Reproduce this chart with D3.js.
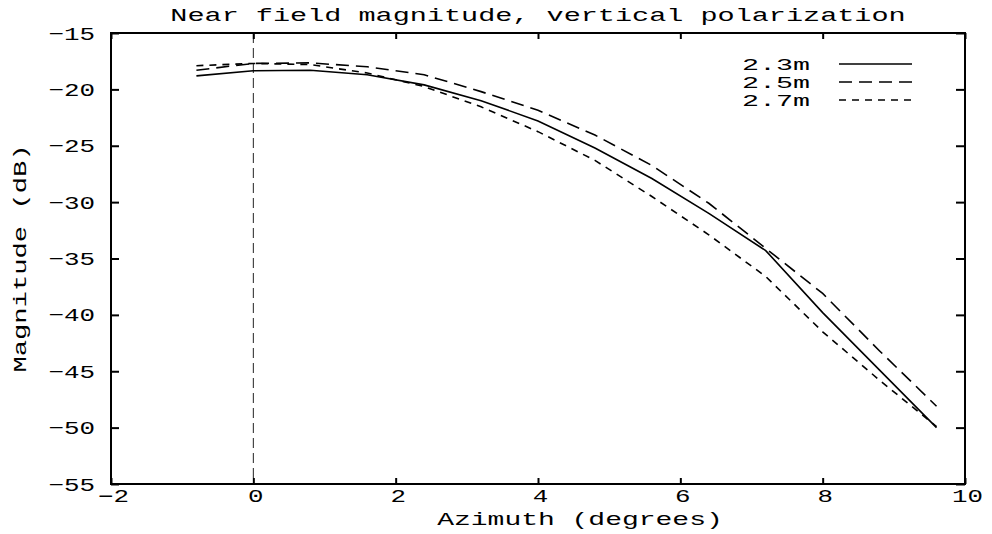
<!DOCTYPE html>
<html>
<head>
<meta charset="utf-8">
<script src="https://cdn.jsdelivr.net/npm/d3@7"></script>
<style>
  html, body { margin: 0; padding: 0; background: #fff; }
  svg { display: block; }
  text { font-family: "Liberation Mono", "DejaVu Sans Mono", monospace; fill: #000; }
</style>
</head>
<body>
<svg id="chart" width="992" height="534"></svg>
<script>
// Azimuth sample points (degrees)
const azimuth = [-0.8, 0, 0.8, 1.6, 2.4, 3.2, 4.0, 4.8, 5.6, 6.4, 7.2, 8.0, 8.8, 9.6];
// Near-field magnitude (dB) at each range
const mag23 = [-18.8, -18.35, -18.3, -18.7, -19.6, -21.0, -22.8, -25.2, -27.9, -31.0, -34.3, -39.8, -44.9, -50.0];
const mag25 = [-18.3, -17.7, -17.65, -18.0, -18.7, -20.2, -21.85, -24.05, -26.75, -30.1, -34.1, -38.1, -43.2, -48.1];
const mag27 = [-17.9, -17.7, -17.8, -18.55, -19.75, -21.55, -23.75, -26.3, -29.5, -32.9, -36.6, -41.5, -45.8, -49.9];
const seriesNames = ["2.3m", "2.5m", "2.7m"];
const xTicks = [-2, 0, 2, 4, 6, 8, 10];
const yTicks = [-55, -50, -45, -40, -35, -30, -25, -20, -15];

const titleText = "Near field magnitude, vertical polarization";
const xTitle = "Azimuth (degrees)";
const yTitle = "Magnitude (dB)";

const dashes = ["none", "13,7", "7,6"];
const series = [mag23, mag25, mag27].map((vals, i) => ({
  name: seriesNames[i],
  dash: dashes[i],
  points: azimuth.map((a, j) => [a, vals[j]])
}));

const svg = d3.select("#chart");
const L = 111, R = 965, T = 33, B = 484;
const x = d3.scaleLinear().domain([-2, 10]).range([L, R]);
const y = d3.scaleLinear().domain([-55, -15]).range([B, T]);
const fs = 19;

// Stretch monospace text to the wide character pitch used throughout
function stretch(sel, pitch) {
  sel.each(function () {
    const t = d3.select(this);
    const s = t.text();
    t.attr("textLength", s.length * pitch).attr("lengthAdjust", "spacingAndGlyphs");
  });
}

// Title
svg.append("text")
  .attr("x", 538).attr("y", 20.5)
  .attr("text-anchor", "middle")
  .attr("font-size", fs)
  .text(titleText)
  .call(stretch, 17.1);

// Zero-azimuth reference line
svg.append("line")
  .attr("x1", x(0)).attr("x2", x(0))
  .attr("y1", T).attr("y2", B)
  .attr("stroke", "#222").attr("stroke-width", 1)
  .attr("stroke-dasharray", "10,5");

// Axes (ticks point inward)
const gx = svg.append("g").attr("transform", `translate(0,${B})`)
  .call(d3.axisBottom(x).tickValues(xTicks).tickSizeInner(-6).tickSizeOuter(0).tickPadding(5));
gx.selectAll("text").attr("font-size", 18).attr("font-family", null).attr("dx", 2).call(stretch, 15.5);

const gy = svg.append("g").attr("transform", `translate(${L},0)`)
  .call(d3.axisLeft(y).tickValues(yTicks).tickSizeInner(-8).tickSizeOuter(0).tickPadding(16));
gy.selectAll("text").attr("font-size", fs).attr("font-family", null).call(stretch, 15.5);

const gt = svg.append("g").attr("transform", `translate(0,${T})`)
  .call(d3.axisTop(x).tickValues(xTicks).tickSizeInner(-6).tickSizeOuter(0).tickFormat(""));
const gr = svg.append("g").attr("transform", `translate(${R},0)`)
  .call(d3.axisRight(y).tickValues(yTicks).tickSizeInner(-9).tickSizeOuter(0).tickFormat(""));

[gx, gy, gt, gr].forEach(g => {
  g.select(".domain").remove();
  g.selectAll(".tick line").attr("stroke", "#000").attr("stroke-width", 2);
});

// Frame
svg.append("rect")
  .attr("x", L).attr("y", T).attr("width", R - L).attr("height", B - T)
  .attr("fill", "none").attr("stroke", "#000").attr("stroke-width", 2);

// Axis titles
svg.append("text")
  .attr("x", 580).attr("y", 525)
  .attr("text-anchor", "middle")
  .attr("font-size", 18)
  .text(xTitle)
  .call(stretch, 16.8);

svg.append("text")
  .attr("transform", `translate(26,${(T + B) / 2}) rotate(-90)`)
  .attr("text-anchor", "middle")
  .attr("font-size", fs)
  .text(yTitle)
  .call(stretch, 16.3);

// Curves
const line = d3.line().x(d => x(d[0])).y(d => y(d[1]));
svg.append("g").selectAll("path")
  .data(series)
  .join("path")
  .attr("d", d => line(d.points))
  .attr("fill", "none")
  .attr("stroke", "#000")
  .attr("stroke-width", 1.6)
  .attr("stroke-dasharray", d => d.dash);

// Legend
const lg = svg.append("g");
series.forEach((s, i) => {
  const ly = 64 + i * 18;
  lg.append("text")
    .attr("x", 810).attr("y", ly + 5.5)
    .attr("text-anchor", "end")
    .attr("font-size", 16)
    .text(s.name)
    .call(stretch, 17);
  lg.append("line")
    .attr("x1", 839).attr("x2", 912)
    .attr("y1", ly).attr("y2", ly)
    .attr("stroke", "#000").attr("stroke-width", 1.6)
    .attr("stroke-dasharray", s.dash);
});
</script>
</body>
</html>
